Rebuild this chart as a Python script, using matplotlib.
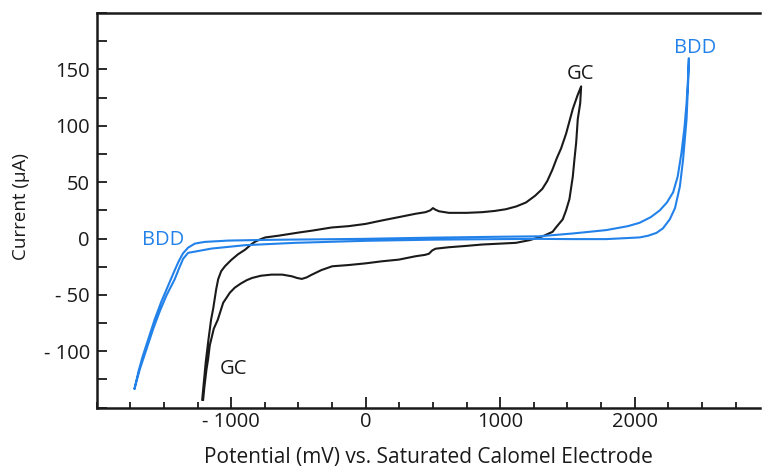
import numpy as np
from matplotlib import pyplot as plt
from matplotlib.ticker import MultipleLocator

# glassy carbon loop (mV, uA)
gc_x = [-1216, -1190, -1172, -1150, -1134, -1112, -1097, -1075, -1047, -1000, -950, -896, -850,
        -821, -780, -746, -650, -500, -400, -254, -127, 0, 119, 246, 371, 445, 480, 500, 520,
        545, 619, 750, 866, 960, 1042, 1120, 1192, 1260, 1313, 1350, 1388, 1420, 1453, 1490,
        1540, 1575, 1602,
        1595, 1577, 1565, 1552, 1540, 1515, 1490, 1465, 1416, 1390, 1316, 1216, 1117, 1000,
        866, 750, 619, 520, 495, 470, 440, 371, 246, 119, 0, -127, -249, -330, -400, -440,
        -475, -510, -549, -620, -700, -780, -846, -886, -930, -973, -1010, -1060, -1100,
        -1130, -1160, -1172, -1184, -1200, -1209]
gc_y = [-143, -110, -92, -72, -62, -45, -36, -29, -24.6, -19, -14, -9.8, -5,
        -2.7, -0.5, 1, 2.5, 5.3, 7, 9.8, 11, 13, 16, 19, 22, 23.4, 25, 27, 25.5,
        24.2, 22.8, 22.8, 23.4, 24.5, 26, 28.5, 32, 38, 44, 51, 61, 71, 80, 93,
        115, 127, 135,
        120, 106, 85, 70, 55, 35, 25, 17, 10, 6, 2, -1.5, -3.8, -4.5,
        -5.3, -6.5, -7.7, -9, -10.5, -13.5, -14.5, -15.7, -18.7, -20.2, -22, -23.5, -24.6, -28, -32, -34.5,
        -35.8, -35, -33.5, -32, -32, -33, -35, -37, -40, -43.5, -48, -57, -72,
        -80, -95, -107, -116, -132, -143]

# boron-doped diamond loop
bdd_x = [-1719, -1690, -1660, -1619, -1570, -1520, -1470, -1420, -1390, -1358, -1320, -1271, -1200,
         -1022, -750, -525, -30, 250, 500, 1000, 1291, 1540, 1789, 1950, 2037, 2120, 2187, 2240,
         2286, 2320, 2348, 2370, 2386, 2396, 2403,
         2400, 2386, 2360, 2336, 2300, 2261, 2210, 2162, 2100, 2037, 1789, 1540, 1291, 1000, 500,
         0, -525, -898, -1147, -1321, -1358, -1390, -1420, -1480, -1530, -1580, -1630, -1680, -1719]
bdd_y = [-133, -118, -105, -90, -72, -56, -42, -28, -20, -13, -8, -4.5, -3,
         -1.8, -1.2, -0.9, -0.3, 0.3, 0.8, 1.6, 2, 4.5, 7.5, 11, 14, 19, 25, 32,
         41, 55, 76, 98, 120, 140, 160,
         145, 106, 70, 46, 27, 17, 9, 5, 2.5, 1, -0.5, -0.5, -0.3, -0.5, -1,
         -2, -3.8, -5.9, -8.9, -12.7, -18, -27, -36, -50, -64, -80, -98, -116, -133]

xticks = [-1000, 0, 1000, 2000]
xtick_labels = ['- 1000', '0', '1000', '2000']
yticks = [-100, -50, 0, 50, 100, 150]
ytick_labels = ['- 100', '- 50', '0', '50', '100', '150']

black = '#1a1a1a'
blue = '#2382ea'

plt.rcParams['font.family'] = ['Open Sans', 'DejaVu Sans']

fig = plt.figure(figsize=(7.62, 4.68), dpi=100)
ax = fig.add_axes([0.127, 0.129, 0.87, 0.843])

ax.plot(gc_x, gc_y, color=black, lw=1.5)
ax.plot(bdd_x, bdd_y, color=blue, lw=1.5)

ax.text(-1507, -1, 'BDD', color=blue, fontsize=14.5, ha='center', va='center')
ax.text(2448, 169, 'BDD', color=blue, fontsize=14.5, ha='center', va='center')
ax.text(1595, 146, 'GC', color=black, fontsize=14.5, ha='center', va='center')
ax.text(-985, -116, 'GC', color=black, fontsize=14.5, ha='center', va='center')

ax.set_xlim(-2000, 2930)
ax.set_ylim(-150, 200)
ax.set_xticks(xticks)
ax.set_xticklabels(xtick_labels)
ax.set_yticks(yticks)
ax.set_yticklabels(ytick_labels)
ax.xaxis.set_minor_locator(MultipleLocator(250))
ax.yaxis.set_minor_locator(MultipleLocator(25))
ax.tick_params(axis='both', which='both', direction='in', width=1.3, labelsize=14.5, colors=black)
ax.tick_params(axis='x', which='major', length=8, pad=3)
ax.tick_params(axis='x', which='minor', length=4.5)
ax.tick_params(axis='y', which='both', length=7, pad=5)

ax.spines['right'].set_visible(False)
for s in ['left', 'bottom', 'top']:
    ax.spines[s].set_linewidth(1.8)
    ax.spines[s].set_color(black)

ax.set_xlabel('Potential (mV) vs. Saturated Calomel Electrode', fontsize=15, color=black)
ax.set_ylabel('Current (\u00b5A)', fontsize=13.5, color=black)
ax.xaxis.set_label_coords(0.5, -0.1)
ax.yaxis.set_label_coords(-0.1, 0.51)

fig.savefig('out.png', dpi=100)
